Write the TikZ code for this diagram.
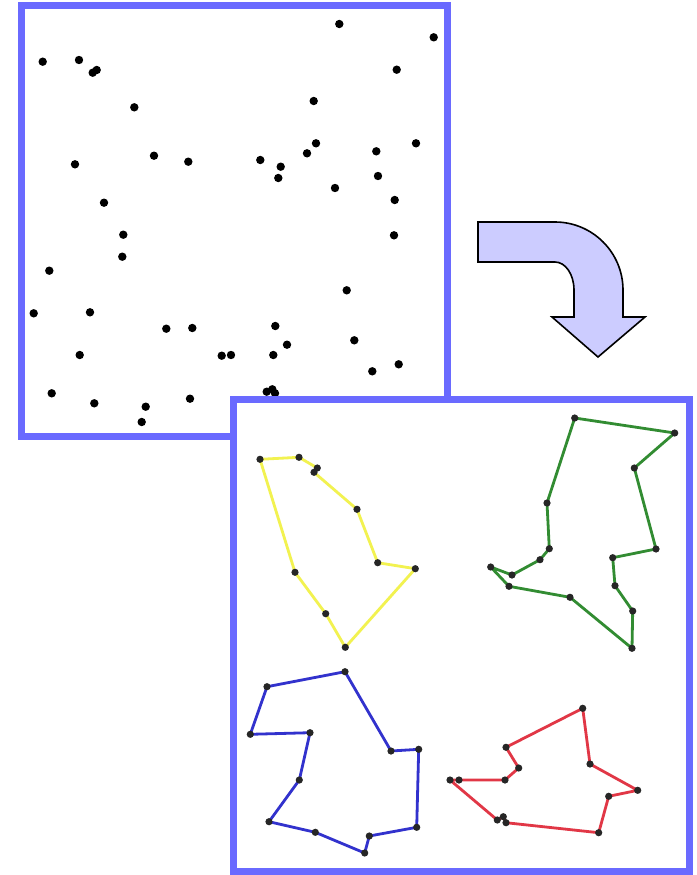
\documentclass[tikz,border=0pt]{standalone}
\usepackage{tikz}
\definecolor{framecol}{RGB}{106,106,255}
\definecolor{arrowcol}{RGB}{204,204,255}
\definecolor{tourY}{RGB}{242,242,80}
\definecolor{tourG}{RGB}{50,140,50}
\definecolor{tourB}{RGB}{50,50,205}
\definecolor{tourR}{RGB}{225,55,70}
\newcommand{\tourdots}[1]{\foreach \p in {#1} {
        \fill[black!85] (\p) circle (3.6);
    }
}
\tikzset{
    frame/.style={draw=framecol, line width=7},
    tour/.style={line width=2.8, line join=round}
}

\begin{document}
\begin{tikzpicture}[x=1pt, y=-1pt]
    \useasboundingbox (0,0) rectangle (696,875);

    % Draw input frame
    \draw[frame, fill=white] (21,6) rectangle (447,436);

    % Draw scattered points
    \foreach \x/\y in {42.7/61.7, 79/60, 92.7/72.7, 96.7/70, 134.3/107.3, 154/155.7,
        188.3/161.7, 75/164.3, 104/202.7, 339.3/24, 433.7/37.3, 396.7/69.7,
        313.7/101, 316/143.3, 307/153.3, 260.3/160, 280.7/166.7, 278.3/178,
        376.3/151.3, 416/143.3, 378/176, 335/188, 394.7/200, 123.3/234.7,
        122.3/256.7, 49.3/270.7, 33.7/313.3, 90/312.3, 166.3/328.7, 192.3/328,
        79.7/355, 221.7/355.7, 231/355, 51.7/393.3, 94.3/403.3, 145.7/406.7,
        141.7/422, 190/398.7, 394/235.3, 346.7/290.3, 275.3/326, 287/344.7,
        273.3/355, 354.3/340.3, 372.3/371.3, 398.7/364.3, 266.7/391.7,
        272.3/389.3, 275/393.3} {
        \fill (\x,\y) circle (4.2);
    }

    % Draw output frame
    \draw[frame, fill=white] (233,399) rectangle (689,871.5);

    % Draw bent arrow
    \draw[fill=arrowcol, line width=1.6, line join=miter]
        (478,222) -- (555,222) .. controls (592.5,222) and (623,252.5) .. (623,290)
        -- (623,317) -- (645,317) -- (598,357) -- (552,317) -- (574,317) -- (574,290)
        .. controls (574,274.5) and (565.5,262) .. (555,262) -- (478,262) -- cycle;

    % Yellow tour
    \coordinate (y1) at (260,459.3);
    \coordinate (y2) at (299,457.3);
    \coordinate (y3) at (317.3,468);
    \coordinate (y4) at (314,472.3);
    \coordinate (y5) at (357,509.3);
    \coordinate (y6) at (377.7,562.7);
    \coordinate (y7) at (415.3,568.7);
    \coordinate (y8) at (345.3,647.3);
    \coordinate (y9) at (325.7,613.7);
    \coordinate (y10) at (295,572.3);
    \draw[tour, tourY] (y1) -- (y2) -- (y3) -- (y4) -- (y5) -- (y6) -- (y7)
        -- (y8) -- (y9) -- (y10) -- cycle;
    \tourdots{y1,y2,y3,y4,y5,y6,y7,y8,y9,y10}

    % Green tour
    \coordinate (g1) at (574.7,418);
    \coordinate (g2) at (674.7,433);
    \coordinate (g3) at (634.3,468);
    \coordinate (g4) at (656,549);
    \coordinate (g5) at (612.7,557.7);
    \coordinate (g6) at (615,585.7);
    \coordinate (g7) at (632.7,611);
    \coordinate (g8) at (632,648.3);
    \coordinate (g9) at (570,597.3);
    \coordinate (g10) at (509,586.3);
    \coordinate (g11) at (490.7,567);
    \coordinate (g12) at (512,575);
    \coordinate (g13) at (540,559.7);
    \coordinate (g14) at (549.3,548.7);
    \coordinate (g15) at (547,503);
    \draw[tour, tourG] (g1) -- (g2) -- (g3) -- (g4) -- (g5) -- (g6) -- (g7) -- (g8)
        -- (g9) -- (g10) -- (g11) -- (g12) -- (g13) -- (g14) -- (g15) -- cycle;
    \tourdots{g1,g2,g3,g4,g5,g6,g7,g8,g9,g10,g11,g12,g13,g14,g15}

    % Blue tour
    \coordinate (b1) at (345,671.7);
    \coordinate (b2) at (267,686.7);
    \coordinate (b3) at (250.3,734.3);
    \coordinate (b4) at (310,732.7);
    \coordinate (b5) at (299.3,780);
    \coordinate (b6) at (269,821.7);
    \coordinate (b7) at (315.3,832.3);
    \coordinate (b8) at (364.7,853);
    \coordinate (b9) at (369.3,836);
    \coordinate (b10) at (416.7,827.3);
    \coordinate (b11) at (418.7,749.3);
    \coordinate (b12) at (391,751);
    \draw[tour, tourB] (b1) -- (b2) -- (b3) -- (b4) -- (b5) -- (b6) -- (b7) -- (b8)
        -- (b9) -- (b10) -- (b11) -- (b12) -- cycle;
    \tourdots{b1,b2,b3,b4,b5,b6,b7,b8,b9,b10,b11,b12}

    % Red tour
    \coordinate (r1) at (582.7,708.3);
    \coordinate (r2) at (590,764);
    \coordinate (r3) at (637.7,790.3);
    \coordinate (r4) at (608.7,796.3);
    \coordinate (r5) at (598.7,832.7);
    \coordinate (r6) at (506,822.7);
    \coordinate (r7) at (503.3,816.7);
    \coordinate (r8) at (497.3,820);
    \coordinate (r9) at (450,780);
    \coordinate (r10) at (459,780);
    \coordinate (r11) at (505,780);
    \coordinate (r12) at (518.7,768);
    \coordinate (r13) at (506,747.3);
    \draw[tour, tourR] (r1) -- (r2) -- (r3) -- (r4) -- (r5) -- (r6) -- (r7) -- (r8)
        -- (r9) -- (r10) -- (r11) -- (r12) -- (r13) -- cycle;
    \tourdots{r1,r2,r3,r4,r5,r6,r7,r8,r9,r10,r11,r12,r13}
\end{tikzpicture}
\end{document}
